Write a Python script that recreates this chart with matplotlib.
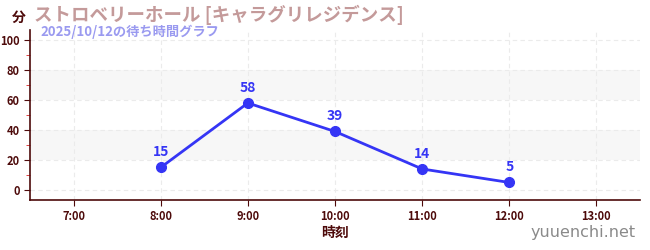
import matplotlib
matplotlib.use('Agg')
import matplotlib.pyplot as plt
from matplotlib.ticker import MultipleLocator

plt.rcParams['font.family'] = ['Noto Sans CJK JP', 'DejaVu Sans']

# data
hours = [8, 9, 10, 11, 12]
waits = [15, 58, 39, 14, 5]
xticks = [7, 8, 9, 10, 11, 12, 13]

title = 'ストロベリーホール [キャラグリレジデンス]'
subtitle = '2025/10/12の待ち時間グラフ'

dark = '#4d0a0a'
line_c = '#3535f5'

fig = plt.figure(figsize=(6.5, 2.5), dpi=100)
ax = fig.add_axes([30 / 650, 0.2, 610 / 650, 0.68])

ax.set_xlim(6.5, 13.5)
ax.set_ylim(-6.7, 106.7)

# striped bands
for lo in (20, 60):
    ax.axhspan(lo, lo + 20, color='#f7f7f7', zorder=0, lw=0)

ax.set_xticks(xticks)
ax.set_xticklabels([f'{h}:00' for h in xticks])
ax.yaxis.set_major_locator(MultipleLocator(20))
ax.yaxis.set_minor_locator(MultipleLocator(10))
ax.grid(True, which='major', color='#ebebeb', linestyle=(0, (4, 3)), linewidth=0.8)

for s in ('top', 'right'):
    ax.spines[s].set_visible(False)
for s in ('left', 'bottom'):
    ax.spines[s].set_color(dark)
    ax.spines[s].set_linewidth(1.2)

ax.tick_params(axis='both', which='major', colors=dark, labelsize=8, length=4)
ax.tick_params(axis='y', which='minor', colors='#dd2222', length=3)
for lbl in ax.get_xticklabels() + ax.get_yticklabels():
    lbl.set_fontweight('bold')
    lbl.set_color(dark)

ax.plot(hours, waits, color=line_c, lw=2, marker='o', ms=7, zorder=3)
for h, w in zip(hours, waits):
    ax.annotate(str(w), (h, w), xytext=(0, 6), textcoords='offset points',
                ha='center', va='bottom', color=line_c, fontsize=10, fontweight='bold')

ax.set_xlabel('時刻', color=dark, fontsize=10, fontweight='bold', labelpad=2)

fig.text(12 / 650, 1 - 18 / 250, '分', color=dark, fontsize=10, fontweight='bold', va='center')
fig.text(34 / 650, 1 - 15 / 250, title, color='#c49a9a', fontsize=13.3, fontweight='bold', va='center')
fig.text(40 / 650, 1 - 32 / 250, subtitle, color='#9a9af0', fontsize=9.5, fontweight='bold', va='center')
fig.text(636 / 650, 1 - 233 / 250, 'yuuenchi.net', color='#8a8a8a', fontsize=11.5,
         ha='right', va='center', family=['DejaVu Sans'])

fig.savefig('out.png', dpi=100)
